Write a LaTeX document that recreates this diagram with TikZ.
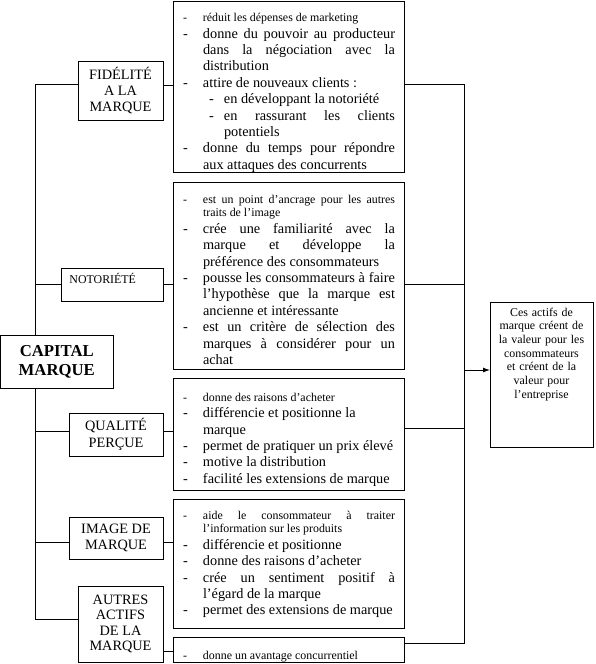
\documentclass[tikz,border=0pt]{standalone}
\usepackage{fontspec}
\setmainfont{Liberation Serif}
\usetikzlibrary{arrows.meta}
\newcommand\nsz{\fontsize{14.3}{16.4}\selectfont}
\newcommand\ssz{\fontsize{11.9}{13.7}\selectfont}
\newcommand\bsz{\fontsize{16.7}{19.2}\selectfont}
\newcommand\itmA[2][\nsz]{{#1\par\noindent\hangindent=20pt\hangafter=1\makebox[20pt][l]{-}#2\par}}
\newcommand\itmB[1]{{\nsz\par\noindent\hangindent=41pt\hangafter=1\hspace*{26pt}\makebox[15pt][l]{-}#1\par}}
\begin{document}
\begin{tikzpicture}[x=1pt,y=-1pt,line width=0.9pt,
  box/.style={draw,inner sep=0pt,outer sep=0pt,align=center},
  txt/.style={inner sep=0pt,outer sep=0pt,text width=212pt,align=justify,anchor=north west,
    execute at begin node={\tolerance=10000\hbadness=10000\parindent=0pt}}]
\useasboundingbox (0,0) rectangle (595,664);

% left label boxes
\node[box,minimum width=85pt,minimum height=59pt,font=\nsz] (fid) at (120.5,90.5) {FIDÉLITÉ\\A LA\\MARQUE};
\node[box,minimum width=102pt,minimum height=33pt] (not) at (112,284.5) {};
\node[inner sep=0pt,anchor=base west,font=\ssz] (nott) at (69,283.5) {NOTORIÉTÉ};
\node[box,minimum width=112.5pt,minimum height=53pt,font=\bsz\bfseries] (cap) at (56.75,361.5) {CAPITAL\\MARQUE};
\node[box,minimum width=94pt,minimum height=43pt,font=\nsz] (qua) at (116,434.5) {QUALITÉ\\PERÇUE};
\node[box,minimum width=94pt,minimum height=42pt,font=\nsz] (img) at (116,538) {IMAGE DE\\MARQUE};
\node[box,minimum width=85pt,minimum height=76pt,font={\fontsize{14.3}{15.2}\selectfont}] (aut) at (120.5,624) {AUTRES\\ACTIFS\\DE LA\\MARQUE};

% right description boxes
\node[box,minimum width=231pt,minimum height=171pt] (b1) at (288.5,86.5) {};
\node[box,minimum width=231pt,minimum height=187pt] (b2) at (288.5,275.5) {};
\node[box,minimum width=231pt,minimum height=112pt] (b3) at (288.5,434) {};
\node[box,minimum width=231pt,minimum height=129pt] (b4) at (288.5,563.5) {};
\node[box,minimum width=231pt,minimum height=25pt] (b5) at (288.5,649.5) {};

\node[txt] (t1) at (183,8) {%
\itmA[\ssz]{réduit les dépenses de marketing}
\itmA{donne du pouvoir au producteur\linebreak dans la négociation avec la\linebreak distribution}
\itmA{attire de nouveaux clients~:}
\itmB{en développant la notoriété}
\itmB{en rassurant les clients\linebreak potentiels}
\itmA{donne du temps pour répondre\linebreak aux attaques des concurrents}};

\node[txt] (t2) at (183,189.5) {%
\itmA[\ssz]{est un point d’ancrage pour les autres\linebreak traits de l’image}
\itmA{crée une familiarité avec la\linebreak marque et développe la\linebreak préférence des consommateurs}
\itmA{pousse les consommateurs à faire\linebreak l’hypothèse que la marque est\linebreak ancienne et intéressante}
\itmA{est un critère de sélection des\linebreak marques à considérer pour un\linebreak achat}};

\node[txt] (t3) at (183,387.5) {%
\itmA[\ssz]{donne des raisons d’acheter}
\itmA{différencie et positionne la\newline marque}
\itmA{permet de pratiquer un prix élevé}
\itmA{motive la distribution}
\itmA{facilité les extensions de marque}};

\node[txt] (t4) at (183,505.5) {%
\itmA[\ssz]{aide le consommateur à traiter\linebreak l’information sur les produits}
\itmA{différencie et positionne}
\itmA{donne des raisons d’acheter}
\itmA{crée un sentiment positif à\linebreak l’égard de la marque}
\itmA{permet des extensions de marque}};

\node[txt] (t5) at (183,645.5) {%
\itmA[\ssz]{donne un avantage concurrentiel}};

% result box
\node[box,minimum width=103pt,minimum height=145pt] (res) at (541.5,374.5) {};
\node[inner sep=0pt,text width=100pt,align=center,anchor=base,font=\ssz] (rest) at (541.5,316)
  {Ces actifs de\\marque créent de\\la valeur pour les\\consommateurs\\et créent de la\\valeur pour\\l’entreprise};

% junction coordinates
\coordinate (l1) at (35,84);
\coordinate (l2) at (35,284);
\coordinate (l3) at (35,431);
\coordinate (l4) at (35,542);
\coordinate (l5) at (35,619);
\coordinate (m1) at (168,85);
\coordinate (m2) at (168,284);
\coordinate (m3) at (168,431);
\coordinate (m4) at (168,542);
\coordinate (m5) at (168,651);
\coordinate (r1) at (464,84);
\coordinate (r2) at (464,284);
\coordinate (r3) at (464,428);
\coordinate (r5) at (464,643);
\coordinate (ra) at (464,370);

% left trunk
\draw (l1 -| fid.west) -- (l1) -- (l1 |- cap.north);
\draw (l5 |- cap.south) -- (l5) -- (l5 -| aut.west);
\draw (l2) -- (l2 -| not.west);
\draw (l3) -- (l3 -| qua.west);
\draw (l4) -- (l4 -| img.west);

% label to description
\draw (m1 -| fid.east) -- (m1 -| b1.west);
\draw (m2 -| not.east) -- (m2 -| b2.west);
\draw (m3 -| qua.east) -- (m3 -| b3.west);
\draw (m4 -| img.east) -- (m4 -| b4.west);
\draw (m5 -| aut.east) -- (m5 -| b5.west);

% right collector
\draw (r1 -| b1.east) -- (r1) -- (r5) -- (r5 -| b5.east);
\draw (r2 -| b2.east) -- (r2);
\draw (r3 -| b3.east) -- (r3);
\draw[-{Latex[length=7pt,width=5pt]}] (ra) -- (ra -| res.west);
\end{tikzpicture}
\end{document}
